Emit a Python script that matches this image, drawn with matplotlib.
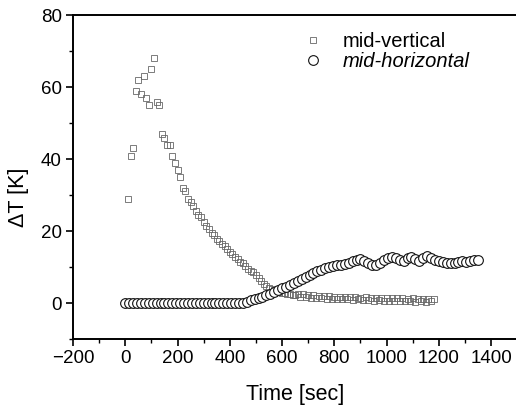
import matplotlib
matplotlib.use("Agg")
import matplotlib.pyplot as plt
from matplotlib.ticker import MultipleLocator

plt.rcParams['font.family'] = ['Liberation Sans', 'DejaVu Sans']

# mid-vertical (squares)
t_vert = list(range(10, 1190, 10))
dT_vert = [29, 41, 43, 59, 62, 58, 63, 57, 55, 65, 68, 56, 55, 47, 46, 44, 44, 41, 39, 37,
           35, 32, 31, 29, 28, 27, 25.5, 24.5, 24, 22.5, 21.5, 20.5, 19.5, 19, 17.8, 17.3, 16.5, 15.8, 15, 14.3,
           13.5, 12.8, 12.2, 11.5, 11, 10.2, 9.6, 9, 8.5, 7.8, 7.0, 6.0, 5.3, 4.8, 4.3, 3.9, 3.5, 3.2, 3.0, 2.8,
           2.7, 2.5, 2.4, 2.3, 2.2, 2.6, 1.7, 2.4, 1.6, 2.3, 1.5, 2.2, 1.4, 2.1, 1.3, 2.0, 1.2, 1.9, 1.2, 1.8,
           1.1, 1.8, 1.0, 1.7, 1.1, 1.6, 0.9, 1.7, 1.0, 1.5, 0.8, 1.6, 0.9, 1.5, 0.7, 1.4, 0.8, 1.5, 0.6, 1.4,
           0.7, 1.3, 0.6, 1.4, 0.5, 1.3, 0.6, 1.2, 0.5, 1.3, 0.4, 1.2, 0.5, 1.2, 0.4, 1.1, 0.5, 1.0]

# mid-horizontal (circles)
t_horiz = list(range(0, 1365, 15))
dT_horiz = [0] * 31 + [0.3, 0.8, 1.2, 1.5, 1.8, 2.2, 2.6, 3.1, 3.6, 4.1, 4.6, 5.1, 5.6, 6.2, 6.8, 7.3, 7.8,
            8.3, 8.8, 9.3, 9.7, 10.0, 10.3, 10.5, 10.7, 10.9, 11.2, 11.7, 12.1, 12.2, 11.8, 11.2, 10.6, 10.5,
            11.2, 12.0, 12.6, 12.9, 12.6, 12.0, 11.8, 12.5, 12.8, 12.2, 11.6, 12.4, 13.1, 12.6, 12.0, 11.7,
            11.4, 11.2, 11.0, 11.1, 11.3, 11.8, 11.4, 11.7, 12.0, 11.9]

fig = plt.figure(figsize=(5.16, 4.09), dpi=100)
ax = fig.add_axes([0.1415, 0.171, 0.861, 0.792])

ax.plot(t_vert, dT_vert, linestyle='none', marker='s', markersize=3.8,
        markerfacecolor='none', markeredgecolor='#666666', markeredgewidth=0.6,
        label='mid-vertical')
ax.plot(t_horiz, dT_horiz, linestyle='none', marker='o', markersize=7,
        markerfacecolor='white', markeredgecolor='#111111', markeredgewidth=0.8,
        label='mid-horizontal')

ax.set_xlim(-200, 1500)
ax.set_ylim(-10, 80)
ax.xaxis.set_major_locator(MultipleLocator(200))
ax.xaxis.set_minor_locator(MultipleLocator(100))
ax.yaxis.set_major_locator(MultipleLocator(20))
ax.yaxis.set_minor_locator(MultipleLocator(10))
ax.tick_params(which='major', direction='out', length=5, width=1.2, labelsize=13.5, pad=3)
ax.tick_params(which='minor', direction='out', length=3, width=1.0)
for s in ['left', 'bottom', 'top']:
    ax.spines[s].set_linewidth(1.4)
ax.spines['right'].set_visible(False)

ax.set_xlabel('Time [sec]', fontsize=15.5)
ax.set_ylabel('ΔT [K]', fontsize=15.5)
ax.xaxis.set_label_coords(0.5, -0.138)
ax.yaxis.set_label_coords(-0.099, 0.438)

leg = ax.legend(loc='upper left', bbox_to_anchor=(295 / 516, 1 - 24 / 409),
                bbox_transform=fig.transFigure, borderaxespad=0, frameon=False,
                fontsize=14.5, handlelength=1.0, handletextpad=0.95, labelspacing=0.05)
leg.get_texts()[1].set_style('italic')

fig.savefig('out.png', dpi=100)
